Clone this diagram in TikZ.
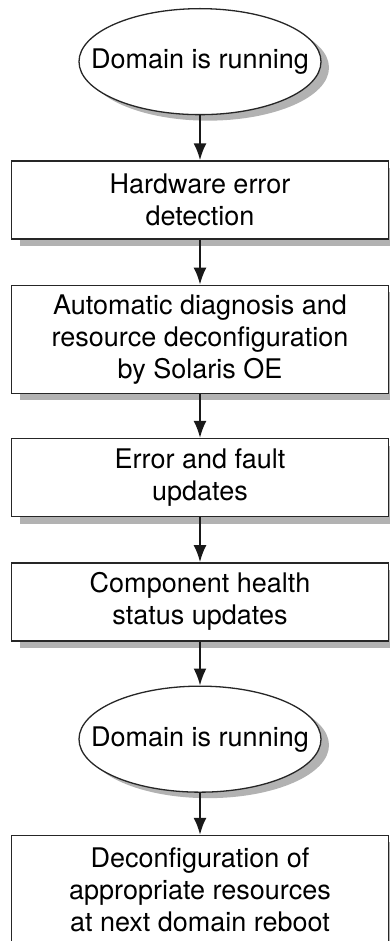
\documentclass[tikz,border=0pt]{standalone}
\usepackage{fontspec}
\setmainfont{TeX Gyre Heros}
\usetikzlibrary{shapes,shadows,positioning,arrows.meta}

\begin{document}
\begin{tikzpicture}[
  font=\fontsize{27}{32}\selectfont,
  stepbox/.style={draw=black!85, line width=1.3pt, fill=white, minimum width=377pt, align=center, inner sep=0pt,
    drop shadow={shadow xshift=8pt, shadow yshift=-7pt, fill=black!30, opacity=1}},
  statebox/.style={ellipse, draw=black!85, line width=1.3pt, fill=white, minimum width=242pt, minimum height=106pt,
    inner xsep=-26pt, inner ysep=0pt,
    drop shadow={shadow xshift=8pt, shadow yshift=-6pt, fill=black!30, opacity=1}},
  flow/.style={-{Latex[length=17pt,width=13pt]}, line width=2pt, black!90}
]
\useasboundingbox (0,0) rectangle (389pt,-941pt);
\coordinate(O1) at (200pt,-8pt);

\node[below=0pt of O1, statebox](run1) {Domain is running};
\node[below=45pt of run1, stepbox, minimum height=78pt](detect) {Hardware error\\detection};
\node[below=45pt of detect, stepbox, minimum height=108pt](diag) {Automatic diagnosis and\\resource deconfiguration\\by Solaris OE};
\node[below=44pt of diag, stepbox, minimum height=78pt](fault) {Error and fault\\updates};
\node[below=45pt of fault, stepbox, minimum height=78pt](health) {Component health\\status updates};
\node[below=44pt of health, statebox](run2) {Domain is running};
\node[below=42pt of run2, stepbox, minimum height=108pt](deconf) {Deconfiguration of\\appropriate resources\\at next domain reboot};

\draw[flow] (run1) -- (detect);
\draw[flow] (detect) -- (diag);
\draw[flow] (diag) -- (fault);
\draw[flow] (fault) -- (health);
\draw[flow] (health) -- (run2);
\draw[flow] (run2) -- (deconf);
\end{tikzpicture}
\end{document}
